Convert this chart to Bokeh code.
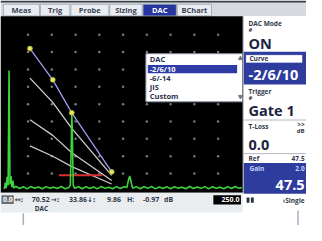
from bokeh.plotting import figure
from bokeh.models import Range1d
from bokeh.embed import file_html
from bokeh.resources import INLINE
from bokeh.core.properties import value

# ---------------- data (scope units: time in screen divisions, amplitude in % FSH)
grid_t = [1, 2, 3, 4, 5, 6, 7, 8, 9]
grid_a = [10, 20, 30, 40, 50, 60, 70, 80, 90]

ascan_points = [
    (0.00, 1.1), (0.04, 4.8), (0.08, 1.6), (0.12, 8.1), (0.16, 3.2), (0.20, 69.4),
    (0.24, 3.8), (0.28, 8.6), (0.32, 2.2), (0.36, 5.9), (0.40, 1.6),
    (0.48, 2.7), (0.64, 1.4), (0.80, 2.4), (0.96, 1.2), (1.12, 2.6), (1.28, 1.5),
    (1.44, 2.3), (1.60, 1.3), (1.76, 2.5), (1.92, 1.6), (2.08, 2.2), (2.24, 1.4),
    (2.40, 2.6), (2.56, 1.3), (2.72, 2.0),
    (2.78, 3.5), (2.82, 28.0), (2.84, 44.6), (2.86, 36.0), (2.90, 3.5),
    (2.96, 1.5), (3.12, 2.4), (3.28, 1.3), (3.44, 2.5), (3.60, 1.4), (3.76, 2.3),
    (3.92, 1.2), (4.08, 2.6), (4.24, 1.5), (4.40, 2.2), (4.56, 1.3), (4.72, 2.5),
    (4.88, 1.4), (5.04, 2.4), (5.16, 2.0),
    (5.22, 6.0), (5.28, 8.6), (5.34, 5.0),
    (5.40, 1.6), (5.56, 2.5), (5.72, 1.3), (5.88, 2.4), (6.04, 1.5), (6.20, 2.6),
    (6.36, 1.2), (6.52, 2.3), (6.68, 1.4), (6.84, 2.5), (7.00, 1.3), (7.16, 2.4),
    (7.32, 1.6), (7.48, 2.2), (7.64, 1.3), (7.80, 2.6), (7.96, 1.4), (8.12, 2.3),
    (8.28, 1.5), (8.44, 2.5), (8.60, 1.2), (8.76, 2.4), (8.92, 1.6), (9.08, 2.2),
    (9.24, 1.3), (9.40, 2.5), (9.56, 1.4), (9.72, 2.6), (9.88, 1.5), (10.0, 2.0),
]
ascan_t = [pt[0] for pt in ascan_points]
ascan_a = [pt[1] for pt in ascan_points]

dac_t = [1.08, 2.04, 2.84, 4.52]
dac_main = [82, 64, 45, 11]      # reference DAC curve
dac_m2 = [65, 51, 36, 9]         # -2 dB
dac_m6 = [41, 32, 22, 6]         # -6 dB
dac_m10 = [26, 20, 14, 4]        # -10 dB

gate_t = [2.30, 4.12]
gate_a = [9.0, 9.0]

tabs = ["Meas", "Trig", "Probe", "Sizing", "DAC", "BChart"]
curve_options = ["DAC", "-2/6/10", "-6/-14", "JIS", "Custom"]
status_labels = ["0.0", "\u2194:", "70.52", "\u2192:", "33.86", "\u2193:", "9.86", "H:", "-0.97", "dB"]

# ---------------- figure (screen coordinates for the instrument chrome)
p = figure(width=306, height=225, x_range=Range1d(0, 322), y_range=Range1d(241, 0),
           x_axis_type=None, y_axis_type=None, output_backend="svg",
           toolbar_location=None, min_border=0, outline_line_color=None,
           background_fill_color="white", border_fill_color="white")
p.extra_x_ranges = {"t": Range1d(-0.16, 12.72)}
p.extra_y_ranges = {"amp": Range1d(-19.89, 109.68)}

FONT = value("Open Sans")
SYM_FONT = value("DejaVu Sans")


def box(l, r, t, b, fill, line=None, lw=1):
    p.quad(left=[l], right=[r], top=[t], bottom=[b], fill_color=fill,
           line_color=line, line_width=lw)


def label(xs, ys, texts, size, color, align="left", style="bold", font=FONT):
    p.text(x=xs, y=ys, text=texts, text_font=font, text_font_size=value(f"{size}px"),
           text_font_style=style, text_color=color, text_align=align,
           text_baseline="middle")


# top bar + tabs
box(0, 322, 0, 2.5, "#3a4048")
box(0, 322, 2.5, 17, "#d6dae0")
tab_l = [3, 42, 74, 115, 150, 186]
tab_r = [41, 73, 114, 149, 185, 222]
for i, name in enumerate(tabs):
    sel = name == "DAC"
    box(tab_l[i], tab_r[i], 4, 16.5, "#2636a0" if sel else "#e9ecf0", "#9aa2ae", 0.8)
    label([(tab_l[i] + tab_r[i]) / 2], [10.5], [name], 7.5,
          "white" if sel else "#3c4454", align="center")

# scope area
box(0, 255, 17, 206, "black")
gx = [t for t in grid_t for a in grid_a]
gy = [a for t in grid_t for a in grid_a]
p.scatter(gx, gy, x_range_name="t", y_range_name="amp", size=2.5,
          color="#7a7a7a", line_color=None)

# DAC curves
p.line(dac_t, dac_m10, x_range_name="t", y_range_name="amp", color="#d2c4d0", line_width=1.3)
p.line(dac_t, dac_m6, x_range_name="t", y_range_name="amp", color="#d2c4d0", line_width=1.3)
p.line(dac_t, dac_m2, x_range_name="t", y_range_name="amp", color="#d8ccd8", line_width=1.3)
p.line(dac_t, dac_main, x_range_name="t", y_range_name="amp", color="#9a9ef0", line_width=1.3)

# gate
p.line(gate_t, gate_a, x_range_name="t", y_range_name="amp", color="#d83030", line_width=2)

# A-scan
p.line(ascan_t, ascan_a, x_range_name="t", y_range_name="amp", color="#3ed23e", line_width=1.6)

# DAC points
p.scatter(dac_t, dac_main, x_range_name="t", y_range_name="amp", size=5,
          fill_color="#e8e860", line_color="#9a9a30", line_width=0.8)

# dropdown list
box(153, 257, 57, 108.5, "white", "#8890a0", 1)
box(155, 249, 69, 78, "#2c3ca4")
opt_y = [63, 73.5, 83.5, 93, 102.5]
for i, opt in enumerate(curve_options):
    label([157], [opt_y[i]], [opt], 7.5, "white" if i == 1 else "#2a3050")
p.scatter([252.5], [62], marker="triangle", size=4, color="#707888")
p.scatter([252.5], [103], marker="inverted_triangle", size=4, color="#707888")

# right panel
box(255, 322, 17, 222, "white")
p.line([255, 255], [17, 206], color="#404850", line_width=1)
label([261], [25], ["DAC Mode"], 6.5, "#303848")
label([261], [32], ["#"], 6, "#303848")
label([261], [46.5], ["ON"], 14.5, "#1c2440")
box(256, 322, 55, 90, "#2e3c9e")
box(258, 318, 58, 67, "white", "#3040a0", 0.8)
label([262], [62.5], ["Curve"], 6.5, "#303848")
label([261], [79.5], ["-2/6/10"], 14.5, "white")
label([261], [97], ["Trigger"], 6.5, "#303848")
label([261], [104], ["#"], 6, "#303848")
label([261], [118], ["Gate 1"], 14.5, "#1c2440")
p.line([256, 322], [128, 128], color="#b4b8c0", line_width=1)
label([261], [135], ["T-Loss"], 6.5, "#303848")
label([320], [133], [">>"], 6.5, "#303848", align="right")
label([320], [140], ["dB"], 6, "#303848", align="right")
label([261], [155], ["0.0"], 14.5, "#1c2440")
p.line([256, 322], [164, 164], color="#b4b8c0", line_width=1)
label([261], [169.5], ["Ref"], 6.5, "#303848")
label([320], [169.5], ["47.5"], 6.5, "#303848", align="right")
box(256, 322, 174, 207, "#2e3c9e")
label([262], [180], ["Gain"], 6.5, "#c8d0ff")
label([320], [180], ["2.0"], 6.5, "#c8d0ff", align="right")
label([320], [197.5], ["47.5"], 14.5, "white", align="right")
box(259, 262, 211, 216.5, "#283040")
box(263.5, 266.5, 211, 216.5, "#283040")
label([320], [214], ["\u203aSingle"], 6.5, "#303848", align="right")

# status bar
box(0, 255, 206, 227, "#eaedf0")
box(1, 14, 208.5, 218, "#6a6e74")
status_x = [2.5, 15, 33, 53, 72, 91, 112, 133, 150, 172]
for i, s in enumerate(status_labels):
    is_sym = s.endswith(":") and s != "H:"
    label([status_x[i]], [213.5], [s], 7, "white" if i == 0 else "#303848",
          font=SYM_FONT if is_sym else FONT)
box(224, 253, 208.5, 218.5, "black")
label([251.5], [213.5], ["250.0"], 7, "white", align="right")
label([36], [222.5], ["DAC"], 6.5, "#303848")

# callout leader lines
p.line([24, 24], [228, 241], color="#a8b0c0", line_width=1.5)
p.line([313, 313], [225, 241], color="#a8b0c0", line_width=1.5)

open("out.html", "w").write(file_html(p, INLINE))
